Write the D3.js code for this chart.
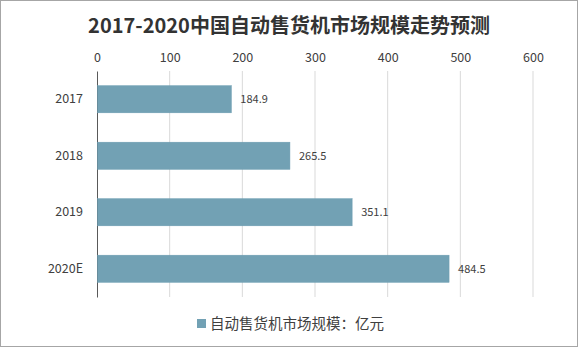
<!DOCTYPE html>
<html><head><meta charset="utf-8">
<script src="https://cdn.jsdelivr.net/npm/d3@7"></script>
<style>body{margin:0;background:#fff}svg{display:block}text{font-family:"Noto Sans CJK SC","Noto Sans",sans-serif;fill:#404040}</style>
</head><body><svg id="c" width="578" height="348"></svg>
<script>
const categories = ["2017","2018","2019","2020E"];
const values = [184.9,265.5,351.1,484.5];
const xTicks = [0,100,200,300,400,500,600];
const title = "2017-2020中国自动售货机市场规模走势预测";
const seriesName = "自动售货机市场规模：亿元";

const svg = d3.select("#c");
svg.append("rect").attr("x",0.5).attr("y",0.5).attr("width",577).attr("height",346).attr("fill","#fff").attr("stroke","#a6a6a6");
const x = d3.scaleLinear().domain([0,600]).range([97,533]);
const y = d3.scaleBand().domain(categories).range([71,297]).paddingInner(0.52).paddingOuter(0.26);

svg.append("text").attr("x",289).attr("y",33).attr("text-anchor","middle").attr("font-size",20).attr("font-weight","bold").style("fill","#333").text(title);

const grid = svg.append("g");
grid.selectAll("line").data(xTicks.slice(1)).join("line")
  .attr("x1",d=>x(d)).attr("x2",d=>x(d)).attr("y1",71).attr("y2",297).attr("stroke","#d9d9d9");

const ax = svg.append("g").attr("transform","translate(0,71)").call(d3.axisTop(x).tickValues(xTicks).tickSize(0).tickPadding(9));
ax.select(".domain").remove();
ax.selectAll("text").attr("font-size",12.5).style("fill","#404040").attr("font-family",null);

const ay = svg.append("g").attr("transform","translate(97,0)").call(d3.axisLeft(y).tickSize(0).tickPadding(14));
ay.select(".domain").attr("stroke","#595959");
ay.selectAll("text").attr("font-size",12.5).style("fill","#404040").attr("font-family",null);

svg.append("g").selectAll("rect").data(values).join("rect")
  .attr("x",x(0)+0.5).attr("y",(d,i)=>y(categories[i])).attr("width",d=>x(d)-x(0)-0.5).attr("height",y.bandwidth())
  .attr("fill","#72a1b4").attr("stroke","#6b9bb0").attr("stroke-width",0.5);

svg.append("g").selectAll("text").data(values).join("text")
  .attr("x",d=>x(d)+9).attr("y",(d,i)=>y(categories[i])+y.bandwidth()/2+4)
  .attr("font-size",11).text(d=>d.toFixed(1));

const lg = svg.append("g");
lg.append("rect").attr("x",197).attr("y",319).attr("width",9).attr("height",9).attr("fill","#72a1b4");
lg.append("text").attr("x",210).attr("y",328.5).attr("font-size",14.5).text(seriesName);
</script></body></html>
